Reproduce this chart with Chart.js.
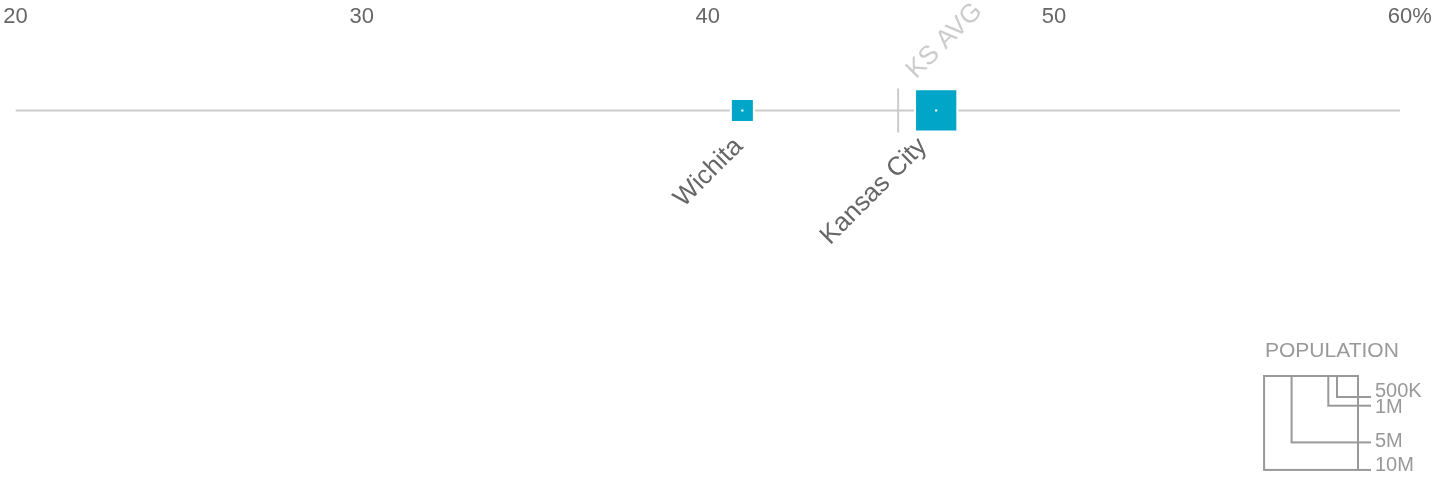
<!DOCTYPE html>
<html>
<head>
<meta charset="utf-8">
<script src="https://cdn.jsdelivr.net/npm/chart.js@4/dist/chart.umd.min.js"></script>
<style>
  html, body { margin: 0; padding: 0; background: #fff; }
  #wrap { width: 1433px; height: 480px; }
</style>
</head>
<body>
<div id="wrap"><canvas id="chart-canvas" width="1433" height="480"></canvas></div>
<script>
'use strict';

// data
const cities = ['Wichita', 'Kansas City'];
const shares = [41.0, 46.6];          // percent
const populations = [0.50, 1.84];     // millions
const stateAvg = 45.5;
const stateAvgLabel = 'KS AVG';
const xTicks = [20, 30, 40, 50, 60];
const legendTitle = 'POPULATION';
const legendPops = [0.5, 1, 5, 10];
const legendLabels = ['500K', '1M', '5M', '10M'];

// square side in px per sqrt(million people)
const SIDE_K = 29.7;
const sideFor = (pop) => SIDE_K * Math.sqrt(pop);

const TEAL = '#00a5c7';
const FONT = '"Liberation Sans", Arial, Helvetica, sans-serif';
const TICK_SIZE = 22;

const extras = {
    id: 'extras',
    beforeDatasetsDraw(chart) {
        const ctx = chart.ctx;
        const x = chart.scales.x.getPixelForValue(stateAvg);
        const y = chart.scales.y.getPixelForValue(0);
        ctx.save();
        ctx.strokeStyle = '#cccccc';
        ctx.lineWidth = 2;
        ctx.beginPath();
        ctx.moveTo(x, y - 22);
        ctx.lineTo(x, y + 22);
        ctx.stroke();
        // avg label
        ctx.translate(x + 18, y - 31);
        ctx.rotate(-Math.PI / 4);
        ctx.fillStyle = '#cccccc';
        ctx.font = '26px ' + FONT;
        ctx.textAlign = 'left';
        ctx.textBaseline = 'alphabetic';
        ctx.fillText(stateAvgLabel, 0, 0);
        ctx.restore();
    },
    afterDatasetsDraw(chart) {
        const ctx = chart.ctx;
        const xs = chart.scales.x;
        const y0 = chart.scales.y.getPixelForValue(0);
        ctx.save();
        ctx.fillStyle = '#666666';
        ctx.font = '26px ' + FONT;
        ctx.textAlign = 'right';
        ctx.textBaseline = 'alphabetic';
        cities.forEach((name, i) => {
            const cx = xs.getPixelForValue(shares[i]);
            const half = sideFor(populations[i]) / 2;
            ctx.save();
            ctx.translate(cx - half + 12, y0 + 37);
            ctx.rotate(-Math.PI / 4);
            ctx.fillText(name, 0, 0);
            ctx.restore();
        });
        ctx.restore();
    },
    afterDraw(chart) {
        const ctx = chart.ctx;
        const xs = chart.scales.x;
        ctx.save();
        // percent sign after last tick label
        ctx.font = TICK_SIZE + 'px ' + FONT;
        ctx.fillStyle = '#666666';
        ctx.textBaseline = 'middle';
        ctx.textAlign = 'left';
        const last = xTicks[xTicks.length - 1];
        const lx = xs.getPixelForValue(last) + ctx.measureText(String(last)).width / 2;
        const ly = xs.bottom - (TICK_SIZE * 1.2) / 2;
        ctx.fillText('%', lx, ly);

        // population legend
        const right = 1358, top = 376;
        ctx.textBaseline = 'alphabetic';
        ctx.fillStyle = '#999999';
        ctx.font = '21px ' + FONT;
        ctx.fillText(legendTitle, 1265, 357);
        ctx.strokeStyle = '#999999';
        ctx.lineWidth = 2;
        ctx.font = '20px ' + FONT;
        const baseOffsets = [0, 7, 5, 1];
        legendPops.forEach((p, i) => {
            const s = sideFor(p);
            ctx.strokeRect(right - s, top, s, s);
            ctx.beginPath();
            ctx.moveTo(right, top + s);
            ctx.lineTo(right + 13, top + s);
            ctx.stroke();
            ctx.fillText(legendLabels[i], right + 17, top + s + baseOffsets[i]);
        });
        ctx.restore();
    }
};

const ctx = document.getElementById('chart-canvas').getContext('2d');
const chart = new Chart(ctx, {
    type: 'scatter',
    data: {
        datasets: [{
            // dots in square centres
            data: shares.map((v) => ({ x: v, y: 0 })),
            pointStyle: 'rect',
            pointRadius: 1.5,
            pointBorderWidth: 0,
            pointBackgroundColor: '#ffffff',
            order: 0
        }, {
            data: shares.map((v) => ({ x: v, y: 0 })),
            pointStyle: 'rect',
            pointRadius: populations.map((p) => (sideFor(p) + 2) / Math.SQRT2),
            pointBorderWidth: 2,
            pointBorderColor: '#ffffff',
            pointBackgroundColor: TEAL,
            order: 1
        }, {
            type: 'line',
            data: [{ x: xTicks[0], y: 0 }, { x: xTicks[xTicks.length - 1], y: 0 }],
            borderColor: '#cccccc',
            borderWidth: 2,
            pointRadius: 0,
            order: 2
        }]
    },
    options: {
        responsive: false,
        animation: false,
        events: [],
        layout: { autoPadding: false, padding: { top: 3.5, left: 15.5, right: 33, bottom: 289 } },
        plugins: {
            legend: { display: false },
            tooltip: { enabled: false }
        },
        scales: {
            x: {
                type: 'linear',
                position: 'top',
                min: xTicks[0],
                max: xTicks[xTicks.length - 1],
                afterBuildTicks: (axis) => { axis.ticks = xTicks.map((v) => ({ value: v })); },
                grid: { display: false, drawTicks: false },
                border: { display: false },
                ticks: {
                    autoSkip: false,
                    maxRotation: 0,
                    padding: 0,
                    color: '#666666',
                    font: { family: FONT, size: TICK_SIZE },
                    callback: (v) => String(v)
                }
            },
            y: {
                display: false,
                min: -1,
                max: 1
            }
        }
    },
    plugins: [extras]
});
</script>
</body>
</html>
